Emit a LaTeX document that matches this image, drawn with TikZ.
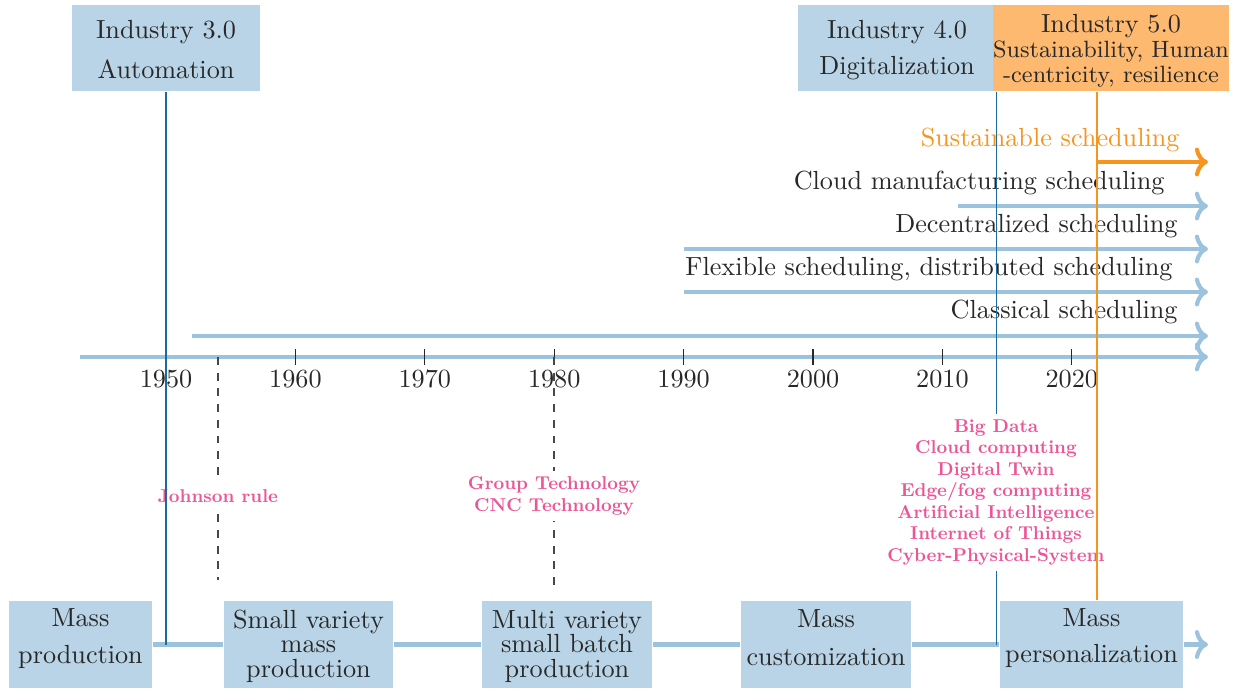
\documentclass[tikz,border=0pt]{standalone}
\usepackage{graphicx}
\usetikzlibrary{arrows.meta}
\definecolor{boxblue}{RGB}{185,212,230}
\definecolor{lineblue}{RGB}{155,195,222}
\definecolor{boxorange}{RGB}{253,185,112}
\definecolor{lineorange}{RGB}{247,148,30}
\definecolor{vblue}{RGB}{30,105,155}
\definecolor{techpink}{RGB}{236,85,150}
\definecolor{txt}{RGB}{40,40,40}
\def\PX{0.3817pt}
\newcommand\techtab[1]{\scalebox{0.71}{\def\arraystretch{0.96}\begin{tabular}{@{}c@{}}#1\end{tabular}}}
\begin{document}
\begin{tikzpicture}[x=0.3817pt,y=-0.3817pt,
  every node/.style={text=txt},
  ibox/.style={fill=boxblue, inner sep=0pt, align=center, minimum height=86*\PX},
  pbox/.style={fill=boxblue, inner sep=0pt, align=center, minimum height=87*\PX},
  thickline/.style={line width=1.6pt, draw=lineblue},
  thickarrow/.style={thickline, -{Computer Modern Rightarrow[length=5pt,width=11pt]}},
  orangearrow/.style={thickarrow, draw=lineorange},
  schedlabel/.style={anchor=base east, inner sep=0pt},
  vline/.style={draw=vblue, line width=0.4pt},
  oline/.style={draw=lineorange, line width=0.45pt},
  tickline/.style={draw=txt, line width=0.45pt},
  dashline/.style={draw=txt!85, line width=0.4pt, dashed},
  tech/.style={font=\bfseries, text=techpink, fill=white, inner xsep=3pt, inner ysep=1.5pt}
]
\useasboundingbox (0,0) rectangle (1240,688);

% scheduling arrows and axis
\coordinate (sus0) at (1097,162); \coordinate (sus1) at (1208,162);
\coordinate (cl0) at (958,206);  \coordinate (cl1) at (1208,206);
\coordinate (de0) at (684,249);  \coordinate (de1) at (1208,249);
\coordinate (fl0) at (684,292);  \coordinate (fl1) at (1208,292);
\coordinate (ca0) at (192,336);  \coordinate (ca1) at (1208,336);
\coordinate (ax0) at (80,357);   \coordinate (ax1) at (1208,357);
\draw[orangearrow] (sus0) -- (sus1);
\draw[thickarrow] (cl0) -- (cl1);
\draw[thickarrow] (de0) -- (de1);
\draw[thickarrow] (fl0) -- (fl1);
\draw[thickarrow] (ca0) -- (ca1);
\draw[thickarrow] (ax0) -- (ax1);

\node[schedlabel, text=lineorange] (lsus) at (1180,146) {Sustainable scheduling};
\node[schedlabel] (lcl) at (1165,189) {Cloud manufacturing scheduling};
\node[schedlabel] (lde) at (1178,232) {Decentralized scheduling};
\node[schedlabel] (lfl) at (1173,275) {Flexible scheduling, distributed scheduling};
\node[schedlabel] (lca) at (1178,318) {Classical scheduling};

% ticks and year labels
\foreach \yr in {1950,1960,...,2020}{
  \pgfmathsetmacro\xx{166+(\yr-1950)*12.94}
  \draw[tickline] (\xx,349) -- (\xx,365);
  \node[anchor=base, inner sep=0pt] (y\yr) at (\xx,387) {\yr};
}

% bottom production boxes
\node[pbox, minimum width=143*\PX] (mp) at (80.5,644.5) {Mass\\[2pt]production\rule[-6.2pt]{0pt}{0pt}};
\node[pbox, minimum width=169*\PX] (sv) at (308.5,644.5) {\rule{0pt}{8.4pt}Small variety\\[-2.8pt]mass\\[-2.8pt]production};
\node[pbox, minimum width=170*\PX] (mv) at (567,644.5) {\rule{0pt}{8.4pt}Multi variety\\[-2.8pt]small batch\\[-2.8pt]production};
\node[pbox, minimum width=170*\PX] (mc) at (826,644.5) {Mass\\[2.5pt]customization\rule[-5.5pt]{0pt}{0pt}};
\node[pbox, minimum width=183*\PX] (mpers) at (1091.5,644.5) {Mass\\[1.5pt]personalization\rule[-6.7pt]{0pt}{0pt}};
\coordinate (endB) at (1208,644.5);
\draw[thickline] (mp) -- (sv);
\draw[thickline] (sv) -- (mv);
\draw[thickline] (mv) -- (mc);
\draw[thickline] (mc) -- (mpers);
\draw[thickarrow] (mpers) -- (endB);

% dashed technology markers
\coordinate (d54a) at (218,357); \coordinate (d54b) at (218,580);
\coordinate (d80a) at (554,357); \coordinate (d80b) at (554,588);
\draw[dashline] (d54a) -- (d54b);
\draw[dashline] (d80a) -- (d80b);
\node[tech] (johnson) at (218,498) {\techtab{Johnson rule}};
\node[tech] (gt) at (554,496) {\techtab{Group Technology\\CNC Technology}};

% top industry boxes
\node[ibox, minimum width=188*\PX] (i3) at (166,48) {\rule{0pt}{8.4pt}Industry 3.0\\[3.3pt]Automation};
\node[ibox, minimum width=198*\PX] (i4) at (897,48) {\rule{0pt}{8.8pt}Industry 4.0\\[1.7pt]Digitalization};
\node[ibox, fill=boxorange, minimum width=224*\PX, font=\small] (i5) at (1111,48)
  {{\normalsize\rule{0pt}{9pt}Industry 5.0}\\[-1.6pt]Sustainability, Human\\[-1.6pt]-centricity, resilience};

% vertical era lines
\coordinate (x22) at (1097,0);
\draw[vline] (i3.south) -- (i3.south |- mp.east);
\draw[vline] (i4.south east) -- (i4.south east |- mpers.west);
\node[tech] (i40tech) at (996,492.5) {\techtab{Big Data\\Cloud computing\\Digital Twin\\Edge/fog computing\\Artificial Intelligence\\Internet of Things\\Cyber-Physical-System}};
\draw[oline] (i5.south -| x22) -- (mpers.north -| x22);
\end{tikzpicture}
\end{document}
